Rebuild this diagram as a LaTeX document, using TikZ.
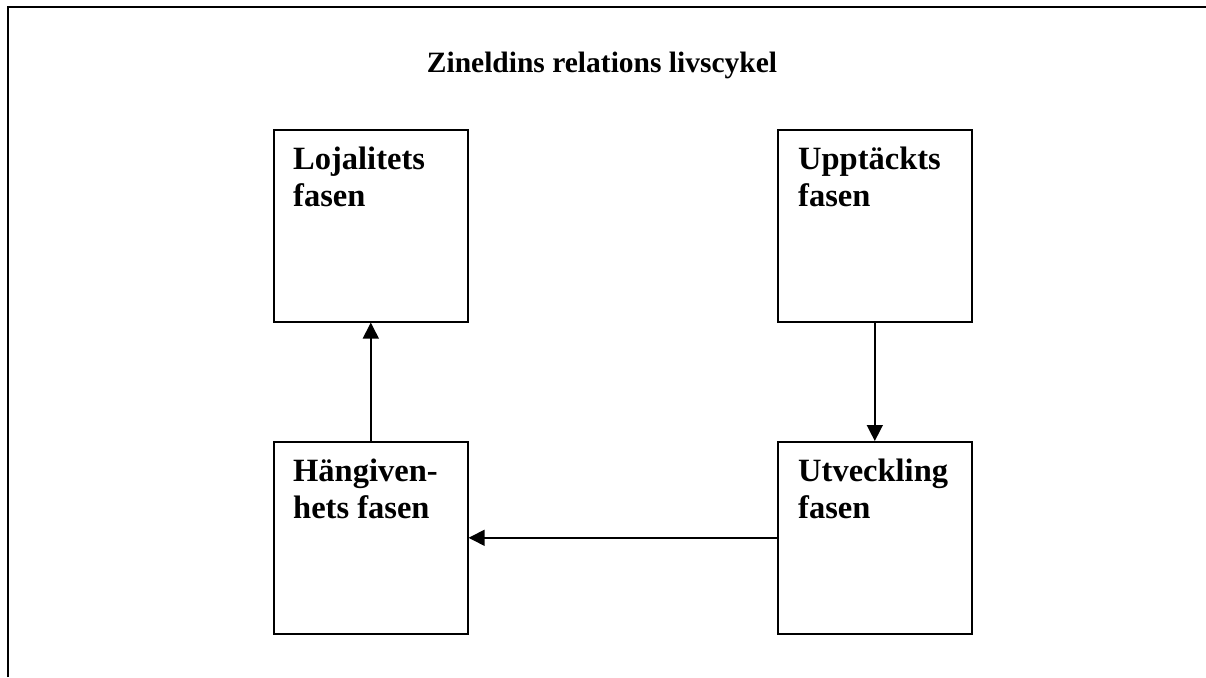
\documentclass[tikz,border=0pt]{standalone}
\usepackage{fontspec}
\setmainfont{Liberation Serif}
\usetikzlibrary{arrows.meta}
\begin{document}
\begin{tikzpicture}[x=1pt,y=-1pt,
  phasebox/.style={draw=black,line width=1.6pt,rectangle,minimum width=194pt,minimum height=192pt,inner sep=0pt,anchor=north west},
  phasetext/.style={anchor=base west,inner sep=0pt,font=\fontsize{32.5}{37}\selectfont\bfseries,align=left},
  conn/.style={line width=1.5pt,-{Triangle[width=16pt,length=16pt]}}]
\useasboundingbox (0,0) rectangle (1206,677);
\fill[white] (0,0) rectangle (1206,677);
% frame
\coordinate (fbl) at (8,677);
\coordinate (ftl) at (8,7.5);
\coordinate (ftr) at (1206,7.5);
\draw[line width=2pt] (fbl) -- (ftl) -- (ftr);
% title
\node[anchor=base,inner sep=0pt,font=\fontsize{29.5}{34}\selectfont\bfseries] (title) at (602,72) {Zineldins relations livscykel};
% boxes
\node[phasebox] (loj) at (273,129) {};
\node[phasebox] (upp) at (777,129) {};
\node[phasebox] (hang) at (273,441) {};
\node[phasebox] (utv) at (777,441) {};
% texts (base = baseline of last line)
\node[phasetext] (lojt) at (293,206) {Lojalitets\\fasen};
\node[phasetext] (uppt) at (798,206) {Upptäckts\\fasen};
\node[phasetext] (hangt) at (293,518) {Hängiven-\\hets fasen};
\node[phasetext] (utvt) at (798,518) {Utveckling\\fasen};
% connectors
\draw[conn] (hang.north) -- (loj.south);
\draw[conn] (upp.south) -- (utv.north);
\draw[conn] (utv.west) -- (hang.east);
\end{tikzpicture}
\end{document}
